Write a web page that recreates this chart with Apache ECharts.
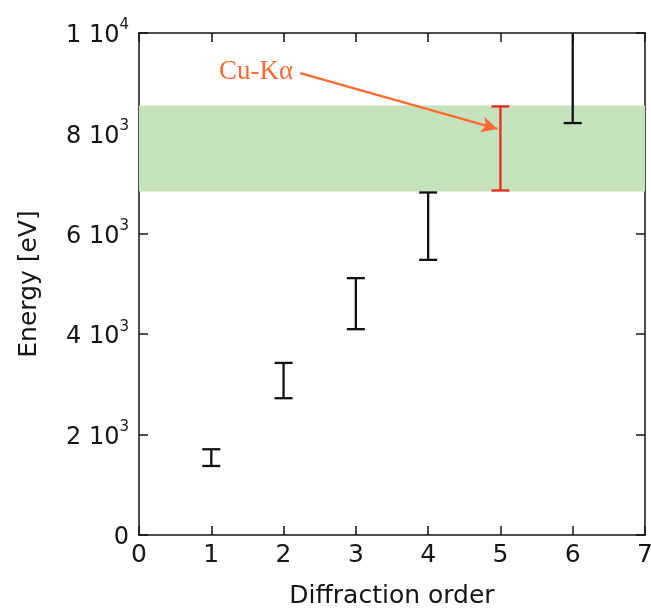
<!DOCTYPE html>
<html><head><meta charset="utf-8">
<script src="https://cdn.jsdelivr.net/npm/echarts@6/dist/echarts.min.js"></script>
<style>html,body{margin:0;padding:0;background:#fff;overflow:hidden}#c{width:651px;height:608px}</style>
</head><body><div id="c"></div>
<script>
// ---- data ----
const orders = [1, 2, 3, 4, 5, 6];
const energyLow = [1375, 2725, 4100, 5481, 6863, 8206];
const energyHigh = [1708, 3428, 5117, 6823, 8537, 10400];
const highlightOrder = 5;
const bandRange = [6843, 8557];
const yTickMantissa = ['0', '2', '4', '6', '8', '1'];
const yTickExp = ['', '3', '3', '3', '3', '4'];
const annotationText = 'Cu-K\u03b1';
const annotationTextPos = [1.62, 9230];
const arrowStart = [2.23, 9200];
const arrowEnd = [4.96, 8090];

const FONT = 'DejaVu Sans';
const AX = '#151515';
const chart = echarts.init(document.getElementById('c'), null, {renderer: 'canvas', width: 651, height: 608});

function renderItem(params, api) {
  const x = api.value(0), lo = api.value(1), hi = api.value(2);
  const pLo = api.coord([x, lo]), pHi = api.coord([x, hi]);
  const cs = params.coordSys;
  const top = Math.max(pHi[1], cs.y);
  const half = 9;
  const color = x === highlightOrder ? '#e52b1e' : '#111';
  const style = {stroke: color, lineWidth: 2.3};
  const children = [
    {type: 'line', shape: {x1: pLo[0], y1: pLo[1], x2: pLo[0], y2: top}, style},
    {type: 'line', shape: {x1: pLo[0] - half, y1: pLo[1], x2: pLo[0] + half, y2: pLo[1]}, style}
  ];
  if (pHi[1] >= cs.y) {
    children.push({type: 'line', shape: {x1: pHi[0] - half, y1: pHi[1], x2: pHi[0] + half, y2: pHi[1]}, style});
  }
  return {type: 'group', children};
}

const axLine = {onZero: false, lineStyle: {color: AX, width: 1.5}};
const axTick = {inside: true, length: 9, lineStyle: {color: AX, width: 1.5}};

const option = {
  animation: false,
  grid: {left: 139, right: 6, top: 33, bottom: 73, containLabel: false, outerBoundsMode: 'none'},
  xAxis: [
    {type: 'value', min: 0, max: 7, interval: 1, position: 'bottom',
     axisLine: axLine, axisTick: axTick, splitLine: {show: false},
     axisLabel: {fontSize: 25, color: AX, fontFamily: FONT, margin: 8},
     name: 'Diffraction order', nameLocation: 'middle', nameGap: 49,
     nameTextStyle: {fontSize: 25, color: AX, fontFamily: FONT}},
    {type: 'value', min: 0, max: 7, interval: 1, position: 'top',
     axisLine: axLine, axisTick: axTick, splitLine: {show: false}, axisLabel: {show: false}}
  ],
  yAxis: [
    {type: 'value', min: 0, max: 10000, interval: 2000, position: 'left',
     axisLine: axLine, axisTick: axTick, splitLine: {show: false},
     axisLabel: {
       margin: 10, color: AX, fontFamily: FONT,
       formatter: v => {
         const i = Math.round(v / 2000);
         const m = yTickMantissa[i], e = yTickExp[i];
         return e ? '{b|' + m + ' 10}{s|' + e + '}' : '{b|' + m + '}';
       },
       rich: {
         b: {fontSize: 24, fontFamily: FONT, color: AX, lineHeight: 30, verticalAlign: 'bottom'},
         s: {fontSize: 15, fontFamily: FONT, color: AX, lineHeight: 30, verticalAlign: 'top'}
       }
     },
     name: 'Energy [eV]', nameLocation: 'middle', nameGap: 97, nameRotate: 90,
     nameTextStyle: {fontSize: 25, color: AX, fontFamily: FONT}},
    {type: 'value', min: 0, max: 10000, interval: 2000, position: 'right',
     axisLine: axLine, axisTick: axTick, splitLine: {show: false}, axisLabel: {show: false}}
  ],
  series: [
    {type: 'line', data: [], z: 1, silent: true,
     markArea: {silent: true, itemStyle: {color: '#c6e2bd', opacity: 1},
       data: [[{yAxis: bandRange[0]}, {yAxis: bandRange[1]}]]}},
    {type: 'custom', z: 3, renderItem, clip: true,
     data: orders.map((o, i) => [o, energyLow[i], energyHigh[i]]),
     encode: {x: 0, y: [1, 2]}},
    {type: 'line', data: [], z: 4, silent: true,
     markLine: {silent: true, symbol: ['none', 'arrow'], symbolSize: [12, 16], label: {show: false},
       lineStyle: {color: '#ff6a30', width: 2.5, type: 'solid'},
       data: [[{coord: arrowStart}, {coord: arrowEnd}]]}}
  ]
};
chart.setOption(option);
const tp = chart.convertToPixel({xAxisIndex: 0, yAxisIndex: 0}, annotationTextPos);
chart.setOption({graphic: [{type: 'text', x: tp[0], y: tp[1], z: 10,
  style: {text: annotationText, fill: '#ff6a30', font: '27px "Liberation Serif", serif', align: 'center', verticalAlign: 'middle'}}]});
</script></body></html>
